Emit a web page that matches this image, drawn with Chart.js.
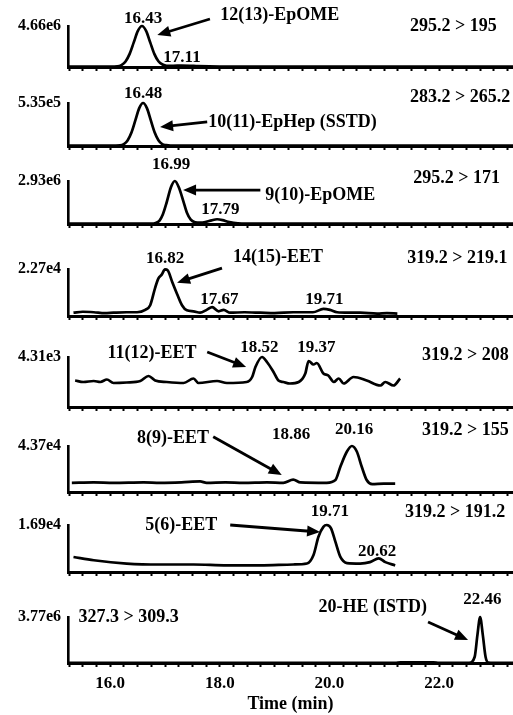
<!DOCTYPE html>
<html>
<head>
<meta charset="utf-8">
<script src="https://cdn.jsdelivr.net/npm/chart.js@4"></script>
<style>
  body { margin: 0; background: #fff; width: 513px; height: 715px; overflow: hidden; position: relative; }
  canvas { position: absolute; left: 0; }
</style>
</head>
<body>
<script>
// full-scale intensity printed at the top of each trace
const fullScale = ['4.66e6', '5.35e5', '2.93e6', '2.27e4', '4.31e3', '4.37e4', '1.69e4', '3.77e6'];
const transitions = ['295.2 > 195', '283.2 > 265.2', '295.2 > 171', '319.2 > 219.1',
                     '319.2 > 208', '319.2 > 155', '319.2 > 191.2', '327.3 > 309.3'];
const compounds = ['12(13)-EpOME', '10(11)-EpHep (SSTD)', '9(10)-EpOME', '14(15)-EET',
                   '11(12)-EET', '8(9)-EET', '5(6)-EET', '20-HE (ISTD)'];
const rtLabels = [['16.43', '17.11'], ['16.48'], ['16.99', '17.79'], ['16.82', '17.67', '19.71'],
                  ['18.52', '19.37'], ['18.86', '20.16'], ['19.71', '20.62'], ['22.46']];

// traces: time (min) and intensity (% of full scale)
const t1 = [15.23, 15.6, 16.0, 16.13, 16.205, 16.28, 16.355, 16.43, 16.505, 16.58, 16.655, 16.73, 16.805, 16.88, 16.955, 17.03, 17.15, 17.3, 17.45, 17.6, 18.0, 19.0, 20.0, 21.0, 22.0, 23.35];
const v1 = [1, 1, 1, 1.5, 4.5, 13.5, 32, 60, 88, 100, 88, 60, 32, 14, 6, 3, 3, 3.5, 3, 2, 1, 1, 1, 1, 1, 1];

const t2 = [15.23, 16.0, 16.18, 16.25, 16.32, 16.39, 16.46, 16.53, 16.60, 16.67, 16.74, 16.81, 16.88, 16.95, 17.02, 17.1, 18.0, 20.0, 22.0, 23.35];
const v2 = [1, 1, 1.5, 4.5, 13.5, 32, 60, 88, 100, 88, 60, 32, 13.5, 4.5, 2, 1, 1, 1, 1, 1];

const t3 = [15.23, 16.0, 16.75, 16.83, 16.90, 16.96, 17.03, 17.11, 17.18, 17.25, 17.33, 17.40, 17.47, 17.55, 17.65, 17.75, 17.85, 17.95, 18.05, 18.15, 18.25, 18.4, 19.0, 20.0, 21.0, 22.0, 23.35];
const v3 = [1, 1, 1, 2.5, 8, 22, 50, 86, 100, 86, 55, 26, 10, 4, 3, 5, 8.5, 11, 9, 5, 2.5, 1, 1, 1, 1, 1, 1];

const t4 = [15.33, 15.50, 15.70, 15.90, 16.06, 16.30, 16.49, 16.64, 16.73, 16.82, 16.88, 16.94, 17.00, 17.05, 17.13, 17.22, 17.31, 17.40, 17.52, 17.64, 17.76, 17.86, 17.98, 18.07, 18.19, 18.45, 18.74, 19.00, 19.34, 19.70, 19.89, 20.01, 20.14, 20.35, 20.56, 20.87, 21.05, 21.24];
const v4 = [7, 9, 8, 6, 7, 8, 8, 13, 23, 60, 80, 88, 99, 97, 73, 47, 23, 12, 10, 7, 13, 19, 10, 13, 7, 8, 7, 6, 8, 8, 15, 13, 8, 7, 7, 5, 6, 5];

const t5 = [15.36, 15.51, 15.70, 15.82, 15.94, 16.06, 16.30, 16.55, 16.70, 16.82, 17.03, 17.34, 17.52, 17.61, 17.95, 18.13, 18.49, 18.59, 18.65, 18.77, 18.86, 18.98, 19.07, 19.16, 19.28, 19.44, 19.56, 19.62, 19.71, 19.77, 19.89, 19.98, 20.08, 20.17, 20.26, 20.44, 20.68, 20.93, 21.02, 21.17, 21.29];
const v5 = [53, 50, 52, 50, 55, 48, 49, 52, 62, 53, 50, 48, 57, 48, 52, 48, 50, 60, 80, 100, 90, 70, 53, 50, 47, 50, 67, 92, 85, 88, 67, 63, 50, 57, 47, 60, 53, 43, 50, 43, 57];

const t6 = [15.30, 15.70, 16.06, 16.61, 16.91, 17.30, 17.64, 17.76, 18.10, 18.43, 18.86, 19.16, 19.34, 19.47, 19.95, 20.11, 20.20, 20.32, 20.41, 20.50, 20.59, 20.68, 20.78, 20.99, 21.20];
const v6 = [20, 21, 20, 21, 20, 21, 23, 20, 21, 20, 21, 20, 27, 21, 20, 26, 55, 88, 100, 88, 55, 26, 17, 18, 18];

const t7 = [15.33, 15.70, 16.30, 16.91, 17.52, 18.13, 18.74, 19.34, 19.59, 19.71, 19.80, 19.89, 19.95, 20.03, 20.11, 20.20, 20.32, 20.56, 20.74, 20.90, 21.02, 21.20];
const v7 = [32, 25, 18, 16, 16, 14, 14, 16, 18, 36, 75, 96, 100, 93, 64, 32, 19, 18, 21, 29, 21, 14];

const t8 = [15.23, 18.0, 21.2, 21.3, 21.9, 22.0, 22.55, 22.65, 22.70, 22.75, 22.80, 22.85, 22.90, 23.0, 23.35];
const v8 = [0.5, 0.5, 0.5, 1.5, 1.5, 0.5, 0.5, 13, 60, 100, 60, 13, 1, 0.5, 0.5];

const traces = [[t1, v1], [t2, v2], [t3, v3], [t4, v4], [t5, v5], [t6, v6], [t7, v7], [t8, v8]];

// layout: plot top / axis line in page px, text anchors in [time, %]
const frame = [[26, 67], [103, 146], [181, 224], [269, 316], [357, 407], [446, 492], [525, 572], [617, 663]];
const rtPos = [[[16.60, 117], [17.31, 24]], [[16.60, 123]], [[17.11, 137], [18.01, 33]],
               [[17.00, 123], [17.99, 35], [19.91, 35]], [[18.72, 118], [19.76, 118]],
               [[19.30, 124], [20.45, 135]], [[20.01, 128], [20.87, 43]], [[22.79, 137]]];
const namePos = [[18.01, 127], [17.79, 56], [18.83, 67], [18.24, 125], [15.95, 108], [16.49, 117], [16.64, 100], [19.80, 120]];
const transPos = [[21.47, 98], [21.47, 112], [21.53, 107], [21.42, 123], [21.69, 104], [21.69, 135], [21.38, 126], [15.42, 100]];
const arrows = [[17.82, 117, 16.86, 78], [17.77, 56, 16.91, 44], [18.74, 79, 17.33, 79], [18.04, 102, 17.22, 71],
                [17.77, 110, 18.48, 80], [17.88, 120, 19.13, 37], [18.19, 100, 19.83, 85], [21.80, 89, 22.53, 50]];

const MARGIN = 45;
const FONT = '"Liberation Serif", "Times New Roman", serif';

function drawArrow(ctx, x1, y1, x2, y2) {
  const a = Math.atan2(y2 - y1, x2 - x1);
  const L = 13, W = 5.5;
  ctx.lineWidth = 2.8;
  ctx.beginPath();
  ctx.moveTo(x1, y1);
  ctx.lineTo(x2 - Math.cos(a) * L * 0.8, y2 - Math.sin(a) * L * 0.8);
  ctx.stroke();
  ctx.beginPath();
  ctx.moveTo(x2, y2);
  ctx.lineTo(x2 - L * Math.cos(a) + W * Math.sin(a), y2 - L * Math.sin(a) - W * Math.cos(a));
  ctx.lineTo(x2 - L * Math.cos(a) - W * Math.sin(a), y2 - L * Math.sin(a) + W * Math.cos(a));
  ctx.closePath();
  ctx.fill();
}

// peak labels, compound names, transitions and arrows
const notesPlugin = {
  id: 'notes',
  afterDraw(chart) {
    const i = chart.options.plugins.notes.index;
    const { ctx, scales: { x, y } } = chart;
    const px = p => [x.getPixelForValue(p[0]), y.getPixelForValue(p[1])];
    ctx.save();
    ctx.fillStyle = '#000';
    ctx.strokeStyle = '#000';
    ctx.font = 'bold 17px ' + FONT;
    ctx.textBaseline = 'middle';
    ctx.textAlign = 'center';
    rtLabels[i].forEach((s, k) => {
      const [a, b] = px(rtPos[i][k]);
      ctx.fillText(s, a, b);
    });
    ctx.font = 'bold 18px ' + FONT;
    ctx.textAlign = 'left';
    let [a, b] = px(namePos[i]);
    ctx.fillText(compounds[i], a, b);
    [a, b] = px(transPos[i]);
    ctx.fillText(transitions[i], a, b);
    const ar = arrows[i];
    const [x1, y1] = px([ar[0], ar[1]]);
    const [x2, y2] = px([ar[2], ar[3]]);
    drawArrow(ctx, x1, y1, x2, y2);
    ctx.restore();
  }
};

traces.forEach(([t, v], i) => {
  const last = i === traces.length - 1;
  const [top, base] = frame[i];
  const below = last ? 52 : 8;
  const cv = document.createElement('canvas');
  cv.width = 513;
  cv.height = MARGIN + (base - top) + below;
  cv.style.top = (top - MARGIN) + 'px';
  document.body.appendChild(cv);

  new Chart(cv, {
    type: 'line',
    data: {
      datasets: [{
        data: t.map((tt, k) => ({ x: tt, y: v[k] })),
        borderColor: '#000',
        borderWidth: 2.7,
        pointRadius: 0,
        cubicInterpolationMode: 'monotone',
        fill: false,
        clip: false
      }]
    },
    options: {
      responsive: false,
      animation: false,
      events: [],
      layout: { padding: { left: 0, top: MARGIN, right: 0, bottom: 0 } },
      plugins: { legend: { display: false }, tooltip: { enabled: false }, notes: { index: i } },
      scales: {
        x: {
          type: 'linear', min: 15.23, max: 23.35,
          afterBuildTicks: s => {
            const ticks = [];
            for (let tv = 15.25; tv <= 23.35; tv += 0.25) ticks.push({ value: tv });
            s.ticks = ticks;
          },
          afterFit: s => { s.height = below; s.paddingLeft = 0; s.paddingRight = 0; },
          border: { display: true, width: 3, color: '#000' },
          grid: { drawOnChartArea: false, drawTicks: true, tickLength: 4, tickWidth: 2, tickColor: '#000' },
          ticks: {
            display: last, autoSkip: false, maxRotation: 0, padding: 6, color: '#000',
            font: { family: FONT, weight: 'bold', size: 17 },
            callback: val => (val % 2 === 0 ? val.toFixed(1) : '')
          },
          title: {
            display: last, text: 'Time (min)', color: '#000',
            font: { family: FONT, weight: 'bold', size: 18 }, padding: { top: 0, bottom: 0 }
          }
        },
        y: {
          min: 0, max: 100,
          afterBuildTicks: s => { s.ticks = [{ value: 100 }]; },
          afterFit: s => { s.width = 68; s.paddingTop = 0; s.paddingBottom = 0; },
          border: { display: true, width: 2.6, color: '#000' },
          grid: { display: false, drawTicks: false },
          ticks: {
            padding: 7, color: '#000',
            font: { family: FONT, weight: 'bold', size: 16 },
            callback: () => fullScale[i]
          }
        }
      }
    },
    plugins: [notesPlugin]
  });
});
</script>
</body>
</html>
